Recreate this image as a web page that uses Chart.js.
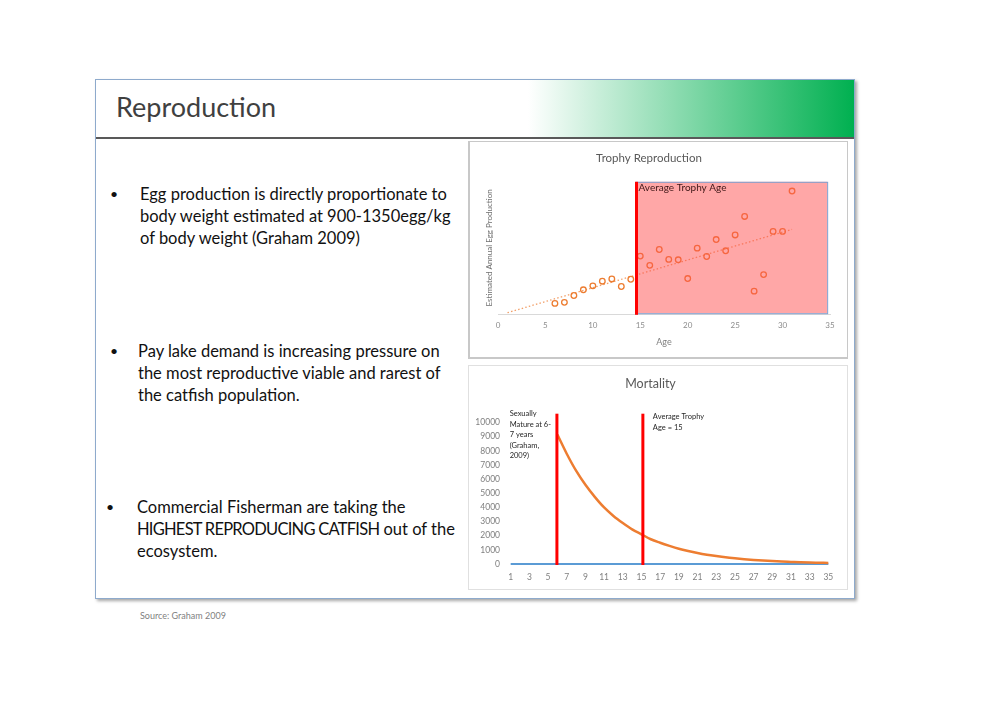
<!DOCTYPE html>
<html>
<head>
<meta charset="utf-8">
<script src="https://cdn.jsdelivr.net/npm/chart.js@4.4.0/dist/chart.umd.min.js"></script>
<style>
  body { margin:0; background:#fff; width:1000px; height:719px; position:relative; font-family:Lato, "Open Sans", sans-serif; }
  #slide { position:absolute; left:95px; top:79px; width:758px; height:518px; border:1px solid #8eaacc; box-shadow:2px 2px 3px rgba(0,0,0,0.35); background:#fff; }
  #header { position:absolute; left:0; top:0; width:758px; height:57px; border-bottom:2px solid #595959;
            background:linear-gradient(to right, #fff 57%, #00b050 100%); }
  #header span { position:absolute; left:20px; top:10px; font-size:27px; color:#404040; }
  .bullet { position:absolute; font-size:16.5px; line-height:22px; color:#111; }
  .caps { letter-spacing:-0.75px; }
  .dot { position:absolute; font-size:14px; line-height:22px; color:#111; }
  .panel { position:absolute; background:#fff; }
  #p1 { left:468px; top:141px; width:380px; height:218px; border:1px solid #c8c8c8; border-left-width:2px; border-bottom-width:2px; box-sizing:border-box; }
  #p2 { left:468px; top:365px; width:380px; height:225px; border:1px solid #e0e0e0; box-sizing:border-box; }
  canvas { position:absolute; left:0; top:0; }
  #src { position:absolute; left:140px; top:610px; font-size:9px; color:#7f7f7f; }
</style>
</head>
<body>
<div id="slide"><div id="header"><span>Reproduction</span></div></div>

<div class="dot" style="left:110px;top:183px">•</div>
<div class="bullet" style="left:140px;top:183px">Egg production is directly proportionate to<br>body weight estimated at 900-1350egg/kg<br>of body weight (Graham 2009)</div>
<div class="dot" style="left:110px;top:340px">•</div>
<div class="bullet" style="left:138px;top:340px">Pay lake demand is increasing pressure on<br>the most reproductive viable and rarest of<br>the catfish population.</div>
<div class="dot" style="left:106px;top:496px">•</div>
<div class="bullet" style="left:137px;top:496px">Commercial Fisherman are taking the<br><span class="caps">HIGHEST REPRODUCING CATFISH</span> out of the<br>ecosystem.</div>

<div class="panel" id="p1"></div>
<div class="panel" id="p2"></div>
<canvas id="trophy" width="380" height="218" style="left:468px;top:141px"></canvas>
<canvas id="mortality" width="380" height="225" style="left:468px;top:365px"></canvas>
<div id="src">Source: Graham 2009</div>

<script>
// Trophy reproduction (scatter)
const trophyAges = [6, 7, 8, 9, 10, 11, 12, 13, 14, 15, 16, 17, 18, 19, 20, 21, 22, 23, 24, 25, 26, 27, 28, 29, 30, 31];
const trophyEggs = [8, 8.8, 14, 18.3, 21.3, 24.8, 26.5, 20.8, 26.3, 43.8, 36.8, 48.8, 41.3, 41, 26.8, 49.8, 43.5, 56.3, 47.8, 59.8, 73.8, 17.3, 29.8, 62.5, 62.5, 93];
const trendAges = [1, 31];
const trendEggs = [1, 64];
const trophyAgeLine = 14.6;
const trophyBoxAges = [14.5, 34.7];

// Mortality (line)
const mortAges = [1, 2, 3, 4, 5, 6, 7, 8, 9, 10, 11, 12, 13, 14, 15, 16, 17, 18, 19, 20, 21, 22, 23, 24, 25, 26, 27, 28, 29, 30, 31, 32, 33, 34, 35];
const survivors = [null, null, null, null, null, 9150, 7800, 6600, 5600, 4750, 4000, 3400, 2900, 2450, 2100, 1750, 1500, 1280, 1080, 920, 780, 660, 560, 470, 400, 340, 290, 245, 205, 175, 150, 125, 105, 90, 75];
const baseline = [0, 0, 0, 0, 0, 0, 0, 0, 0, 0, 0, 0, 0, 0, 0, 0, 0, 0, 0, 0, 0, 0, 0, 0, 0, 0, 0, 0, 0, 0, 0, 0, 0, 0, 0];
const markerAges = [5.95, 15.15];
const matureNote = ['Sexually', 'Mature at 6-', '7 years', '(Graham,', '2009)'];
const trophyNote = ['Average Trophy', 'Age = 15'];

const trophyBox = {
  id: 'trophyBox',
  afterDatasetsDraw(chart) {
    const {ctx, scales: {x, y}} = chart;
    const l = x.getPixelForValue(trophyBoxAges[0]), r = x.getPixelForValue(trophyBoxAges[1]);
    const t = y.getPixelForValue(100), b = y.getPixelForValue(0.6);
    ctx.save();
    ctx.fillStyle = 'rgba(255,80,80,0.5)';
    ctx.fillRect(l, t, r - l, b - t);
    ctx.strokeStyle = '#7f9fcf';
    ctx.lineWidth = 1;
    ctx.strokeRect(l + 0.5, t + 0.5, r - l, b - t);
    ctx.strokeStyle = '#ff0000';
    ctx.lineWidth = 3;
    const lx = x.getPixelForValue(trophyAgeLine);
    ctx.beginPath();
    ctx.moveTo(lx, y.getPixelForValue(-0.6));
    ctx.lineTo(lx, t);
    ctx.stroke();
    ctx.fillStyle = '#401818';
    ctx.font = '10px Lato';
    ctx.textBaseline = 'middle';
    ctx.fillText('Average Trophy Age', lx + 2, t + 6);
    ctx.restore();
  }
};

new Chart(document.getElementById('trophy'), {
  type: 'scatter',
  data: {
    datasets: [
      {
        label: 'Egg production',
        data: trophyAges.map((a, i) => ({x: a, y: trophyEggs[i]})),
        borderColor: '#ed7d31',
        backgroundColor: 'rgba(0,0,0,0)',
        pointRadius: 2.8,
        borderWidth: 1.3
      },
      {
        label: 'Trend',
        data: trendAges.map((a, i) => ({x: a, y: trendEggs[i]})),
        showLine: true,
        borderColor: '#f2a06a',
        borderWidth: 1.3,
        borderDash: [1.5, 2.2],
        pointRadius: 0
      }
    ]
  },
  options: {
    responsive: false,
    animation: false,
    layout: {padding: {left: 0, right: 18, top: 0, bottom: 0}},
    plugins: {
      legend: {display: false},
      tooltip: {enabled: false},
      title: {display: true, text: 'Trophy Reproduction', color: '#595959', font: {family: 'Lato', size: 11.5, weight: 'normal'}, padding: {top: 10, bottom: 17}}
    },
    scales: {
      x: {
        type: 'linear', min: 0, max: 35,
        ticks: {stepSize: 5, color: '#8c8c8c', font: {family: 'Lato', size: 8}, padding: 7},
        grid: {display: false, drawTicks: false},
        border: {color: '#d9d9d9'},
        title: {display: true, text: 'Age', color: '#7f7f7f', font: {family: 'Lato', size: 9}, padding: {top: 0, bottom: 12}},
        afterFit: s => { s.height = 45; }
      },
      y: {
        min: 0, max: 100,
        ticks: {display: false},
        grid: {display: false, drawTicks: false},
        border: {display: false},
        title: {display: true, text: 'Estimated Annual Egg Production', color: '#6f6f6f', font: {family: 'Lato', size: 8}, padding: {top: 17, bottom: 0}},
        afterFit: s => { s.width = 30; }
      }
    }
  },
  plugins: [trophyBox]
});

const mortalityMarks = {
  id: 'mortalityMarks',
  afterDatasetsDraw(chart) {
    const {ctx, scales: {x, y}} = chart;
    ctx.save();
    ctx.strokeStyle = '#ff0000';
    ctx.lineWidth = 3;
    markerAges.forEach(a => {
      const px = x.getPixelForValue(a - 1);
      ctx.beginPath();
      ctx.moveTo(px, y.getPixelForValue(0) + 1);
      ctx.lineTo(px, y.getPixelForValue(10630));
      ctx.stroke();
    });
    ctx.fillStyle = '#262626';
    ctx.font = '7.5px Lato';
    ctx.textBaseline = 'middle';
    const top = y.getPixelForValue(10630);
    matureNote.forEach((t, i) => ctx.fillText(t, x.getPixelForValue(0) - 1, top + i * 10.5 + 0));
    trophyNote.forEach((t, i) => ctx.fillText(t, x.getPixelForValue(markerAges[1] - 1) + 10, top + 3 + i * 11));
    ctx.restore();
  }
};

new Chart(document.getElementById('mortality'), {
  type: 'line',
  data: {
    labels: mortAges,
    datasets: [
      {label: 'Survivors', data: survivors, borderColor: '#ed7d31', borderWidth: 2.5, pointRadius: 0, cubicInterpolationMode: 'monotone', clip: 6},
      {label: 'Baseline', data: baseline, borderColor: '#5b9bd5', borderWidth: 2, pointRadius: 0, clip: 6}
    ]
  },
  options: {
    responsive: false,
    animation: false,
    layout: {padding: {left: 0, right: 15, top: 0, bottom: 0}},
    plugins: {
      legend: {display: false},
      tooltip: {enabled: false},
      title: {display: true, text: 'Mortality', color: '#595959', font: {family: 'Lato', size: 12.5, weight: 'normal'}, padding: {top: 11, bottom: 31.6}}
    },
    scales: {
      x: {
        offset: true,
        grid: {display: false, drawTicks: false},
        border: {display: false},
        ticks: {autoSkip: false, maxRotation: 0, color: '#7f7f7f', font: {family: 'Lato', size: 8.5}, padding: 8,
                callback: (v, i) => i % 2 === 0 ? mortAges[i] : ''},
        afterFit: s => { s.height = 26; }
      },
      y: {
        min: 0, max: 10000,
        ticks: {stepSize: 1000, color: '#7f7f7f', font: {family: 'Lato', size: 8.5}, padding: 6, callback: v => String(v)},
        grid: {display: false, drawTicks: false},
        border: {display: false},
        afterFit: s => { s.width = 38; }
      }
    }
  },
  plugins: [mortalityMarks]
});
</script>
</body>
</html>
